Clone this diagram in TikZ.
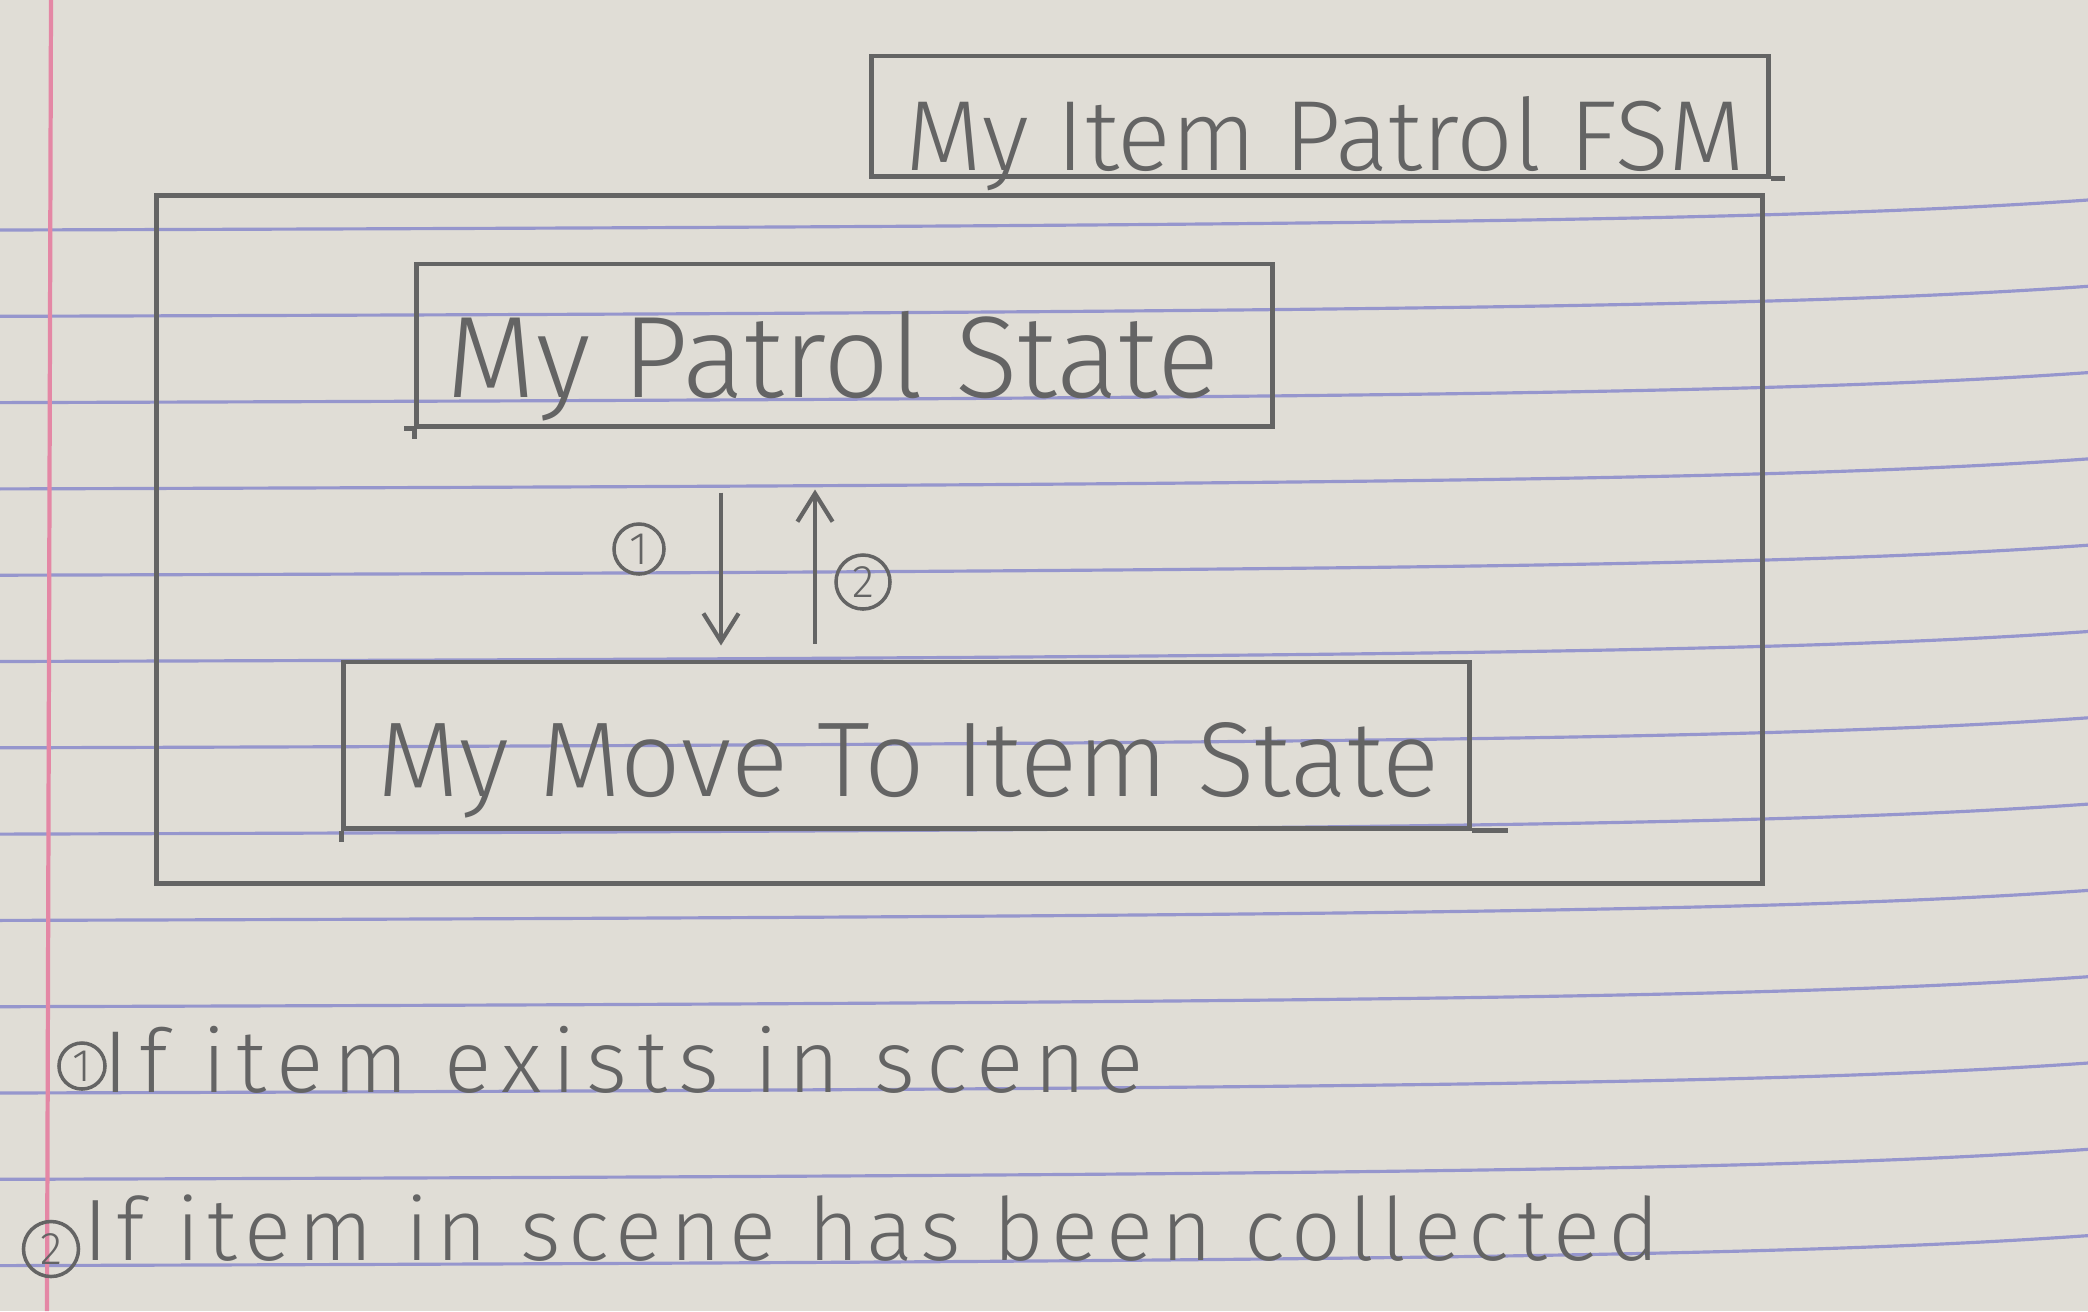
\documentclass[tikz,border=0pt]{standalone}
\usepackage{fontspec}
\setmainfont{Fira Sans}[UprightFont=* Light]
\usetikzlibrary{arrows.meta}
\definecolor{paper}{RGB}{224,221,214}
\definecolor{ruleblue}{RGB}{150,150,205}
\definecolor{marginred}{RGB}{228,135,165}
\definecolor{pencil}{RGB}{100,100,100}
\newcommand\fitw[2]{\resizebox{#1}{!}{#2}}
\begin{document}
\begin{tikzpicture}[x=0.01cm,y=-0.01cm,
  box/.style={draw=pencil, line width=1.4pt, rectangle, inner sep=0pt},
  stroke/.style={draw=pencil, line width=1.4pt},
  hand/.style={text=pencil, inner sep=0pt, anchor=base west},
  num/.style={circle, draw=pencil, line width=1pt, inner sep=0pt, text=pencil,
              font=\fontsize{13}{13}\selectfont},
  arr/.style={draw=pencil, line width=1.2pt,
              -{Straight Barb[length=8pt,width=10pt,line width=1.2pt]}}
]
% paper
\fill[paper] (0,0) rectangle (2088,1311);
\useasboundingbox (0,0) rectangle (2088,1311);
\foreach \k in {0,...,12}
  \draw[ruleblue, line width=0.9pt] (0,{230+86.3*\k})
     .. controls (1400,{226+86.3*\k}) and (1800,{220+86.3*\k}) .. (2088,{200+86.3*\k});
\draw[marginred, line width=1.2pt] (51,0) -- (47,1311);

% boxes
\node[box, minimum width=16.05cm, minimum height=6.87cm] (fsm) at (959.5,539.5) {};
\node[box, minimum width=8.96cm, minimum height=1.20cm] (tab) at (1320,116) {};
\node[box, minimum width=8.55cm, minimum height=1.62cm] (patrol) at (844.5,345) {};
\node[box, minimum width=11.25cm, minimum height=1.66cm] (move) at (906.5,745) {};
% hand-drawn overshoots at corners
\draw[stroke] (tab.south east) -- ++(14,0);
\draw[stroke] (patrol.south west) -- ++(0,10);
\draw[stroke] (patrol.south west) -- ++(-10,0);
\draw[stroke] (move.south east) -- ++(36,0);
\draw[stroke] (move.south west) -- ++(0,11);

% texts
\node[hand, font=\fontsize{26}{30}\selectfont] (tabtext) at (905,170) {\fitw{8.39cm}{My Item Patrol FSM}};
\node[hand, font=\fontsize{32}{36}\selectfont] (patroltext) at (446,397) {\fitw{7.72cm}{My Patrol State}};
\node[hand, font=\fontsize{29}{33}\selectfont] (movetext) at (377,796) {\fitw{10.61cm}{My Move To Item State}};

% transitions
\coordinate (a1) at (721,0);
\coordinate (a2) at (815,0);
\draw[arr, shorten <=0.64cm, shorten >=0.14cm] (patrol.south -| a1) -- (move.north -| a1);
\draw[arr, shorten <=0.16cm, shorten >=0.61cm] (move.north -| a2) -- (patrol.south -| a2);
\node[num, minimum size=0.50cm] (l1) at (639,549) {1};
\node[num, minimum size=0.54cm] (l2) at (863,582) {2};

% legend
\node[num, minimum size=0.46cm] (c1) at (82,1066) {1};
\node[hand, font=\fontsize{24}{28}\selectfont\addfontfeature{LetterSpace=12}] (leg1) at (103,1092) {\fitw{10.39cm}{If item exists in scene}};
\node[num, minimum size=0.55cm] (c2) at (51,1249) {2};
\node[hand, font=\fontsize{24}{28}\selectfont\addfontfeature{LetterSpace=9}] (leg2) at (83,1260) {\fitw{15.75cm}{If item in scene has been collected}};
\end{tikzpicture}
\end{document}
